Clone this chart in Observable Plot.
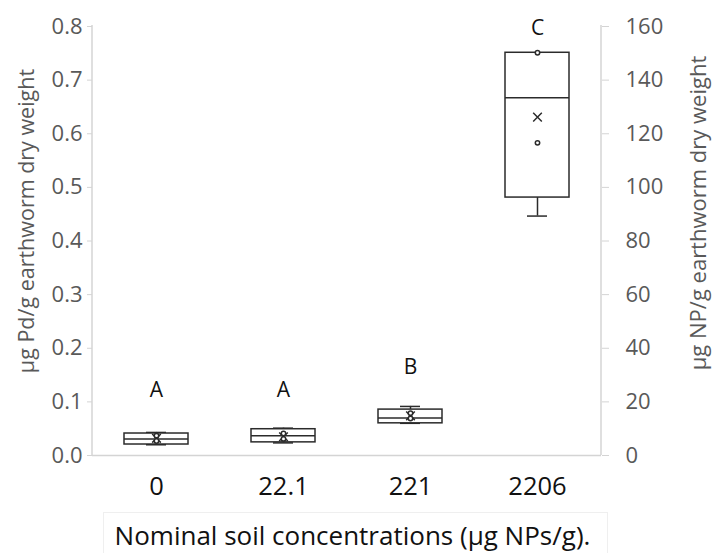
<!DOCTYPE html>
<html>
<head>
<meta charset="utf-8">
<script src="https://cdn.jsdelivr.net/npm/d3@7"></script>
<script src="https://cdn.jsdelivr.net/npm/@observablehq/plot@0.6"></script>
<style>
  html, body { margin: 0; padding: 0; background: #fff; }
  body { width: 717px; height: 553px; overflow: hidden; font-family: "Open Sans", sans-serif; }
  #title {
    margin-left: 103px; width: 505px; height: 41px; box-sizing: border-box;
    border: 1px solid #efefef; border-bottom: none;
    font-size: 26px; line-height: 36px; padding-top: 4px; text-align: center; color: #111;
    padding-right: 6px; white-space: nowrap;
  }
</style>
</head>
<body>
<div id="chart"></div>
<div id="title">Nominal soil concentrations (µg NPs/g).</div>
<script>
// Categories (nominal soil concentrations)
const categories = ["0", "22.1", "221", "2206"];
// Box statistics in µg Pd/g (left axis); right axis = ×200 (µg NP/g)
const minVals    = [0.020, 0.0235, 0.060, 0.4465];
const q1Vals     = [0.0205, 0.0245, 0.060, 0.481];
const medianVals = [0.031, 0.037, 0.070, 0.667];
const q3Vals     = [0.041, 0.049, 0.0856, 0.751];
const maxVals    = [0.043, 0.051, 0.0915, 0.751];
const meanVals   = [0.032, 0.035, 0.074, 0.631];
// Inner points
const pointCats  = ["0", "0", "22.1", "22.1", "221", "221", "2206", "2206"];
const pointVals  = [0.027, 0.037, 0.031, 0.041, 0.069, 0.079, 0.583, 0.751];
// Significance letters
const letters    = ["A", "A", "B", "C"];
const letterVals = [0.121, 0.121, 0.164, 0.797];
// Axis ticks
const leftTicks  = [0, 0.1, 0.2, 0.3, 0.4, 0.5, 0.6, 0.7, 0.8];
const rightTickLabels = ["0", "20", "40", "60", "80", "100", "120", "140", "160"];
const leftTitle  = "µg Pd/g earthworm dry weight";
const rightTitle = "µg NP/g earthworm dry weight";

const boxes = categories.map((c, i) => ({
  cat: c, min: minVals[i], q1: q1Vals[i], med: medianVals[i],
  q3: q3Vals[i], max: maxVals[i], mean: meanVals[i], letter: letters[i], ly: letterVals[i]
}));
const points = pointCats.map((c, i) => ({cat: c, v: pointVals[i]}));

const axisColor = "#d4d4d4";
const labelColor = "#595959";
const boxColor = "#2b2b2b";

// frame side lines drawn via scales/dimensions
const sideLines = (index, scales, values, dims) => {
  const g = d3.create("svg:g").attr("stroke", axisColor).attr("stroke-width", 1.5);
  const y0 = scales.y(0), y1 = scales.y(0.8);
  const xl = dims.marginLeft, xr = dims.width - dims.marginRight;
  g.append("line").attr("x1", xl).attr("x2", xl).attr("y1", y0).attr("y2", y1 - 1);
  g.append("line").attr("x1", xr).attr("x2", xr).attr("y1", y0).attr("y2", y1 - 1);
  return g.node();
};

const chart = Plot.plot({
  width: 717,
  height: 512,
  marginLeft: 92,
  marginRight: 116,
  marginTop: 26,
  marginBottom: 57,
  style: {fontFamily: "Open Sans, sans-serif", background: "#fff", overflow: "visible"},
  x: {domain: categories, paddingInner: 0.5, paddingOuter: 0.25},
  y: {domain: [0, 0.8]},
  marks: [
    sideLines,
    Plot.ruleY([0], {stroke: axisColor, strokeWidth: 1.5}),
    Plot.axisY({
      anchor: "left", ticks: leftTicks, tickFormat: d3.format(".1f"),
      tickSize: 5, tickPadding: 5, fontSize: 22, color: labelColor,
      stroke: axisColor, label: null
    }),
    Plot.axisY({
      anchor: "right", ticks: leftTicks, tickFormat: (d, i) => rightTickLabels[i],
      tickSize: 7, tickPadding: 17, fontSize: 22, color: labelColor,
      stroke: axisColor, label: null, textAnchor: "start"
    }),
    Plot.axisX({
      anchor: "bottom", tickSize: 0, tickPadding: 21, fontSize: 25.5, color: "#111", label: null
    }),
    Plot.text([leftTitle], {frameAnchor: "left", rotate: -90, textAnchor: "middle", dx: -65, dy: -20,
      fontSize: 21.5, fill: labelColor}),
    Plot.text([rightTitle], {frameAnchor: "right", rotate: -90, textAnchor: "middle", dx: 97, dy: -28,
      fontSize: 22, fill: labelColor}),
    // whiskers
    Plot.ruleX(boxes, {x: "cat", y1: "min", y2: "q1", stroke: boxColor, strokeWidth: 1.5}),
    Plot.ruleX(boxes, {x: "cat", y1: "q3", y2: "max", stroke: boxColor, strokeWidth: 1.5}),
    Plot.tickY(boxes, {x: "cat", y: "min", insetLeft: 22, insetRight: 22, stroke: boxColor, strokeWidth: 1.5}),
    Plot.tickY(boxes, {x: "cat", y: "max", insetLeft: 22, insetRight: 22, stroke: boxColor, strokeWidth: 1.5}),
    // boxes
    Plot.barY(boxes, {x: "cat", y1: "q1", y2: "q3", fill: "white", stroke: boxColor, strokeWidth: 1.5}),
    Plot.tickY(boxes, {x: "cat", y: "med", stroke: boxColor, strokeWidth: 1.5}),
    // mean markers
    Plot.dot(boxes, {x: "cat", y: "mean", symbol: "times", r: 4, stroke: boxColor, strokeWidth: 1.5}),
    // inner points
    Plot.dot(points, {x: "cat", y: "v", r: 2.2, fill: "white", stroke: boxColor, strokeWidth: 1.5}),
    // letters
    Plot.text(boxes, {x: "cat", y: "ly", text: "letter", fontSize: 21, fill: "#111"})
  ]
});
document.getElementById("chart").appendChild(chart);
</script>
</body>
</html>
